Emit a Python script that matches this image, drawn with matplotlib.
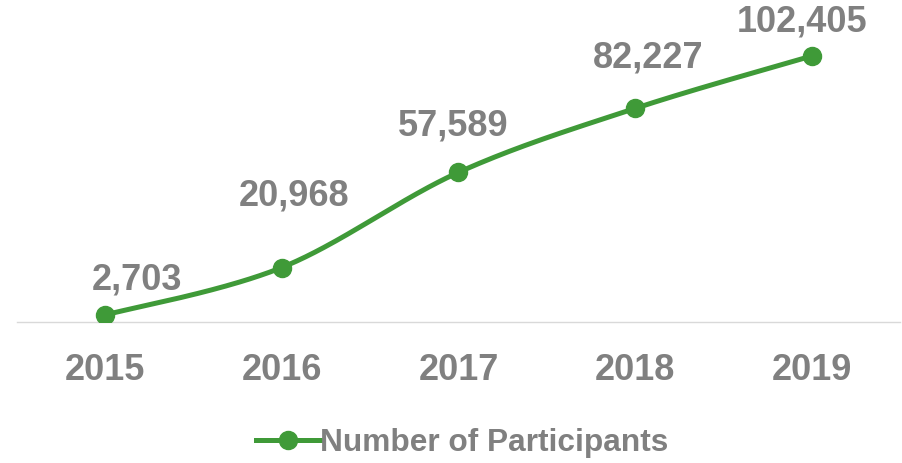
import numpy as np
import matplotlib
matplotlib.use("Agg")
import matplotlib.pyplot as plt
from matplotlib.lines import Line2D

years = ["2015", "2016", "2017", "2018", "2019"]
participants = [2703, 20968, 57589, 82227, 102405]
labels = ["2,703", "20,968", "57,589", "82,227", "102,405"]
series_name = "Number of Participants"

GREEN = "#3f9a38"
GRAY = "#808080"
plt.rcParams["font.family"] = ["Liberation Sans", "DejaVu Sans"]

W, H = 903, 463
fig = plt.figure(figsize=(W / 100, H / 100), dpi=100)
ax = fig.add_axes([16.6 / W, 141 / H, 883.8 / W, 311.8 / H])

x = np.arange(len(years))
y = np.array(participants, dtype=float)

# Excel-like smoothing (Catmull-Rom via cubic Bezier)
def smooth(xs, ys, n=60):
    px, py = [], []
    N = len(xs)
    for i in range(N - 1):
        p0 = (xs[max(i - 1, 0)], ys[max(i - 1, 0)])
        p1 = (xs[i], ys[i])
        p2 = (xs[i + 1], ys[i + 1])
        p3 = (xs[min(i + 2, N - 1)], ys[min(i + 2, N - 1)])
        t = 1 / 6
        c1 = (p1[0] + (p2[0] - p0[0]) * t, p1[1] + (p2[1] - p0[1]) * t)
        c2 = (p2[0] - (p3[0] - p1[0]) * t, p2[1] - (p3[1] - p1[1]) * t)
        s = np.linspace(0, 1, n)
        bx = (1 - s) ** 3 * p1[0] + 3 * (1 - s) ** 2 * s * c1[0] + 3 * (1 - s) * s ** 2 * c2[0] + s ** 3 * p2[0]
        by = (1 - s) ** 3 * p1[1] + 3 * (1 - s) ** 2 * s * c1[1] + 3 * (1 - s) * s ** 2 * c2[1] + s ** 3 * p2[1]
        px.extend(bx)
        py.extend(by)
    return np.array(px), np.array(py)

sx, sy = smooth(x, y)
ax.plot(sx, sy, color=GREEN, lw=3.6, solid_capstyle="round", zorder=3)
ax.plot(x, y, "o", color=GREEN, ms=13, zorder=4)

# label offsets from the point, in pixels (style only)
label_dx = [32, 12, -5, 13, -10]
label_dy = [25, 62, 37, 41, 24]
for xi, yi, lab, dx, dy in zip(x, y, labels, label_dx, label_dy):
    ax.annotate(lab, (xi, yi), xytext=(dx * 0.72, dy * 0.72), textcoords="offset points",
                ha="center", va="baseline", fontsize=26, fontweight="bold",
                color=GRAY)

ax.set_xlim(-0.5, len(years) - 0.5)
ax.set_ylim(0, 120000)
for s in ["top", "right", "left"]:
    ax.spines[s].set_visible(False)
ax.spines["bottom"].set_color("#d9d9d9")
ax.spines["bottom"].set_linewidth(1.0)
ax.set_yticks([])
ax.set_xticks(x)
ax.set_xticklabels(years, fontsize=26, fontweight="bold", color=GRAY)
ax.tick_params(axis="x", length=0, pad=22)

handle = Line2D([], [], color=GREEN, lw=3.6, marker="o", ms=13)
fig.legend([handle], [series_name], loc="center", bbox_to_anchor=(462 / W, 1 - 443 / H),
           frameon=False, prop={"size": 22.8, "weight": "bold"}, labelcolor=GRAY,
           handlelength=2.0, handletextpad=0.0)

fig.savefig("out.png", dpi=100)
